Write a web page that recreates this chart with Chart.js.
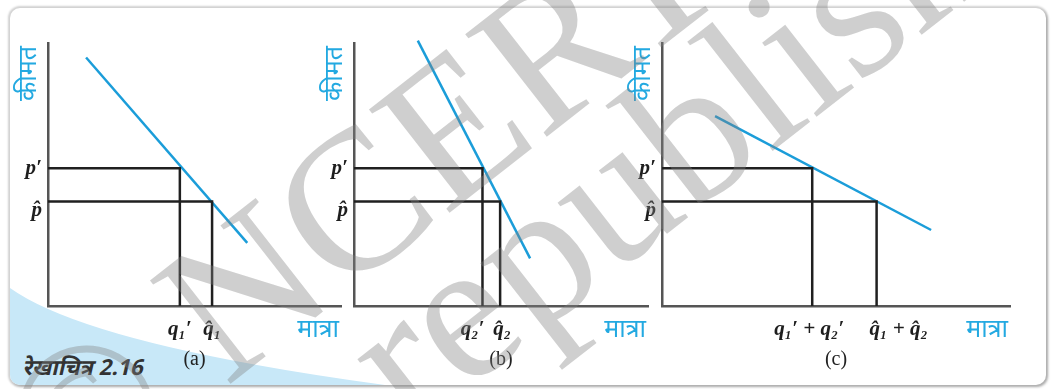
<!DOCTYPE html>
<html>
<head>
<meta charset="utf-8">
<script src="https://cdn.jsdelivr.net/npm/chart.js@4.4.1/dist/chart.umd.min.js"></script>
<style>
  html, body { margin:0; padding:0; width:1052px; height:389px; overflow:hidden; background:#ffffff; }
  #card { position:absolute; left:10px; top:8px; width:1036px; height:377px; border-radius:10px; background:#fff;
          box-shadow: 0 0 2px 2px rgba(0,0,0,0.18), 2px 2px 3px rgba(0,0,0,0.18); overflow:hidden; }
  #swoosh { position:absolute; left:0; top:0; }
  canvas { position:absolute; top:0; }
  .wm { position:absolute; font-family:'Liberation Serif','DejaVu Serif',serif; font-size:200px; line-height:200px;
        white-space:nowrap; color:rgba(128,128,128,0.38); transform-origin:0 0; transform:rotate(-38deg); pointer-events:none; }
  #cap { position:absolute; left:21px; top:351px; font-family:'Noto Sans','Lohit Devanagari','Noto Sans Devanagari',sans-serif;
         font-weight:bold; font-size:22px; color:#333; white-space:nowrap; transform:skewX(-13deg); transform-origin:0 100%; }
</style>
</head>
<body>
<div id="card">
  <svg id="swoosh" width="1036" height="377"><path d="M0,280 Q80,337 375,377 L0,377 Z" fill="#c8e8f8"/></svg>
</div>
<div id="cap">रेखाचित्र 2.16</div>
<canvas id="pa" width="352" height="389" style="left:0px"></canvas>
<canvas id="pb" width="352" height="389" style="left:300px"></canvas>
<canvas id="pc" width="440" height="389" style="left:600px"></canvas>
<div class="wm" style="left:-36px; top:380px;">© NCERT</div>
<div class="wm" style="left:-283px; top:764px;">not to be republished</div>
<script>
// ---------- data ----------
const yTitle = 'कीमत';
const xTitle = 'मात्रा';
const panelCaptions = ['(a)', '(b)', '(c)'];

const priceValues = [5.24, 3.97];          // p′ , p̂
const priceLabels = ['p′', 'p̂'];

const xMaxA = 10, xMaxB = 10, xMaxC = 12;
const yMax = 10;

const demandA = [{x:1.3, y:9.45}, {x:6.8, y:2.4}];
const demandB = [{x:2.17, y:10.09}, {x:5.99, y:1.81}];
const demandC = [{x:1.83, y:7.22}, {x:9.28, y:2.89}];

const qValuesA = [4.5, 5.6];
const qLabelsA = ['q₁′', 'q̂₁'];
const qValuesB = [4.37, 4.97];
const qLabelsB = ['q₂′', 'q̂₂'];
const qValuesC = [5.18, 7.40];
const qLabelsC = ['q₁′ + q₂′', 'q̂₁ + q̂₂'];

// ---------- drawing ----------
const BLUE = '#1b9dd9';
const TEXT_BLUE = '#23a9e1';
const DEV_FONT = "'Noto Sans','Lohit Devanagari','Noto Sans Devanagari',sans-serif";
const SYM_FONT = "italic bold 21px 'Liberation Serif','DejaVu Serif',serif";

const figText = {
  id: 'figText',
  afterDraw(chart, args, o) {
    const {ctx, chartArea: a, scales: {x, y}} = chart;
    ctx.save();
    ctx.fillStyle = '#1e1e1e';
    ctx.font = SYM_FONT;
    ctx.textBaseline = 'middle';
    ctx.textAlign = 'right';
    o.yValues.forEach((v, i) => {
      ctx.fillText(o.yLabels[i], a.left - 6, y.getPixelForValue(v) + o.yShift[i]);
    });
    o.xValues.forEach((v, i) => {
      ctx.textAlign = o.xAlign[i];
      ctx.fillText(o.xLabels[i], x.getPixelForValue(v) + o.xShift[i], a.bottom + 24);
    });
    // axis titles
    ctx.fillStyle = TEXT_BLUE;
    ctx.font = '25px ' + DEV_FONT;
    ctx.textAlign = 'right';
    ctx.fillText(o.xTitle, a.right - 2, a.bottom + 24);
    ctx.save();
    ctx.translate(a.left - 19, a.top + 3);
    ctx.rotate(-Math.PI / 2);
    ctx.textAlign = 'right';
    ctx.fillText(o.yTitle, 0, 0);
    ctx.restore();
    // caption
    ctx.fillStyle = '#222';
    ctx.font = "20px 'Liberation Serif','DejaVu Serif',serif";
    ctx.textAlign = 'center';
    ctx.fillText(o.caption, (a.left + a.right) / 2, a.bottom + 54);
    ctx.restore();
  }
};

function guide(p, q) {
  return [{x:0, y:p}, {x:q, y:p}, {x:q, y:0}];
}

function makePanel(id, demand, qValues, qLabels, xMax, caption, yAxisWidth, padRight, xStyle) {
  const lineDs = (data, color) => ({
    data, borderColor: color, borderWidth: 2.5, pointRadius: 0, tension: 0, fill: false, clip: false
  });
  new Chart(document.getElementById(id), {
    type: 'line',
    data: {
      datasets: [
        lineDs(guide(priceValues[0], qValues[0]), '#202020'),
        lineDs(guide(priceValues[1], qValues[1]), '#202020'),
        lineDs(demand, BLUE)
      ]
    },
    options: {
      responsive: false,
      animation: false,
      events: [],
      layout: { padding: { top: 43, right: padRight, left: 0, bottom: 0 } },
      scales: {
        x: {
          type: 'linear', min: 0, max: xMax,
          grid: { display: false, drawTicks: false },
          ticks: { display: false },
          border: { display: true, color: '#555555', width: 2.5 },
          afterFit(s) { s.height = 83; }
        },
        y: {
          type: 'linear', min: 0, max: yMax,
          grid: { display: false, drawTicks: false },
          ticks: { display: false },
          border: { display: true, color: '#555555', width: 2.5 },
          afterFit(s) { s.width = yAxisWidth; }
        }
      },
      plugins: {
        legend: { display: false },
        tooltip: { enabled: false },
        figText: {
          yValues: priceValues, yLabels: priceLabels, yShift: [0, 9],
          xValues: qValues, xLabels: qLabels, xAlign: xStyle.align, xShift: xStyle.shift,
          xTitle: xTitle, yTitle: yTitle, caption: caption
        }
      }
    },
    plugins: [figText]
  });
}

makePanel('pa', demandA, qValuesA, qLabelsA, xMaxA, panelCaptions[0], 48, 11, {align:['center','center'], shift:[0,0]});
makePanel('pb', demandB, qValuesB, qLabelsB, xMaxB, panelCaptions[1], 54, 4, {align:['right','center'], shift:[2,2]});
makePanel('pc', demandC, qValuesC, qLabelsC, xMaxC, panelCaptions[2], 62, 30, {align:['center','left'], shift:[-3,-7]});
</script>
</body>
</html>
